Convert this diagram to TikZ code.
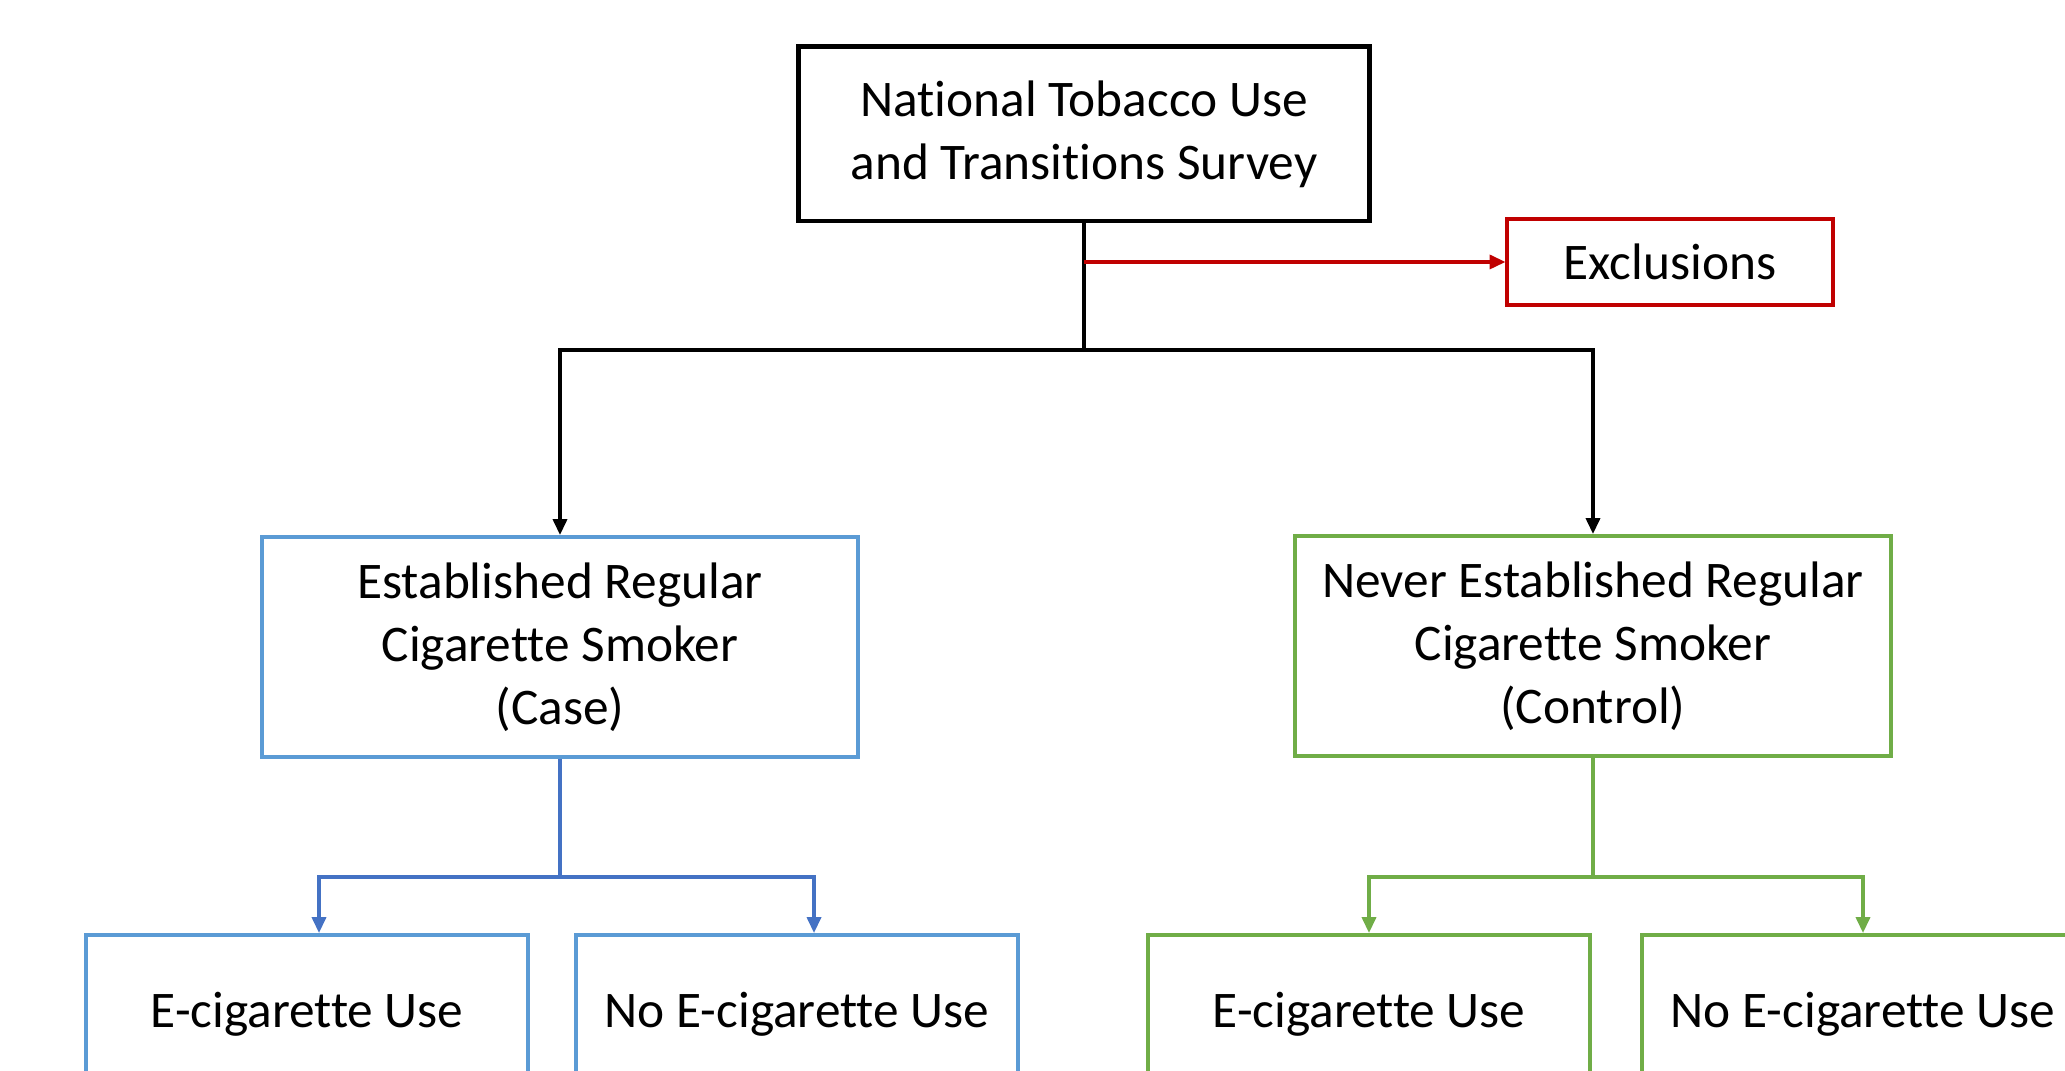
\documentclass[tikz,border=0pt]{standalone}
\usepackage{fontspec}
\setmainfont{Carlito}[Ligatures=NoCommon]
\usetikzlibrary{arrows.meta,positioning}

\definecolor{caseline}{RGB}{91,155,213}
\definecolor{casearrow}{RGB}{68,114,196}
\definecolor{controlline}{RGB}{112,173,71}
\definecolor{exclline}{RGB}{192,0,0}

\begin{document}
\begin{tikzpicture}[
    x=0.01cm, y=-0.01cm,
    base node/.style={rectangle,draw,align=center,inner sep=0pt,font=\fontsize{14.6pt}{17.9pt}\selectfont},
    main node/.style={base node,draw=black,line width=1.4pt,minimum width=5.71cm,minimum height=1.74cm},
    excl node/.style={base node,draw=exclline,line width=1.1pt,minimum width=3.25cm,minimum height=0.86cm},
    case node/.style={base node,draw=caseline,line width=1.1pt,minimum width=5.95cm,minimum height=2.2cm},
    control node/.style={base node,draw=controlline,line width=1.1pt,minimum width=5.95cm,minimum height=2.2cm},
    sub case/.style={base node,draw=caseline,line width=1.1pt,minimum width=4.42cm,minimum height=1.58cm},
    sub control/.style={base node,draw=controlline,line width=1.1pt,minimum width=4.42cm,minimum height=1.58cm},
    line/.style={line width=0.9pt},
    arrow/.style={line,-{Triangle[length=4.5pt,width=4pt]}}
]
\useasboundingbox (0,0) rectangle (2065,1071);
\clip (0,0) rectangle (2065,1071);

% Encuesta
\node[main node] (survey) at (1084,134) {National Tobacco Use\\and Transitions Survey};
\node[excl node] (excl) at (1670,262) {Exclusions};

% Grupos
\node[case node] (case) at (560,647) {Established Regular\\Cigarette Smoker\\(Case)};
\node[control node] (control) at (1593,646) {Never Established Regular\\Cigarette Smoker\\(Control)};

% Subgrupos
\node[sub case] (ecase) at (307,1014) {E-cigarette Use};
\node[sub case] (noecase) at (797,1014) {No E-cigarette Use};
\node[sub control] (econtrol) at (1369,1014) {E-cigarette Use};
\node[sub control] (noecontrol) at (1863,1014) {No E-cigarette Use};

% Puntos de division
\coordinate (split) at (1084,350);
\coordinate (casesplit) at (560,877);
\coordinate (controlsplit) at (1593,877);

% Conexiones
\draw[line] (survey.south) -- (split);
\draw[arrow,exclline] (survey.south |- excl.west) -- (excl.west);
\draw[arrow] (split) -| (case);
\draw[arrow] (split) -| (control);

\draw[line,casearrow] (case.south) -- (casesplit);
\draw[arrow,casearrow] (casesplit) -| ([xshift=0.12cm]ecase.north);
\draw[arrow,casearrow] (casesplit) -| ([xshift=0.17cm]noecase.north);

\draw[line,controlline] (control.south) -- (controlsplit);
\draw[arrow,controlline] (controlsplit) -| (econtrol);
\draw[arrow,controlline] (controlsplit) -| (noecontrol);

\end{tikzpicture}
\end{document}
